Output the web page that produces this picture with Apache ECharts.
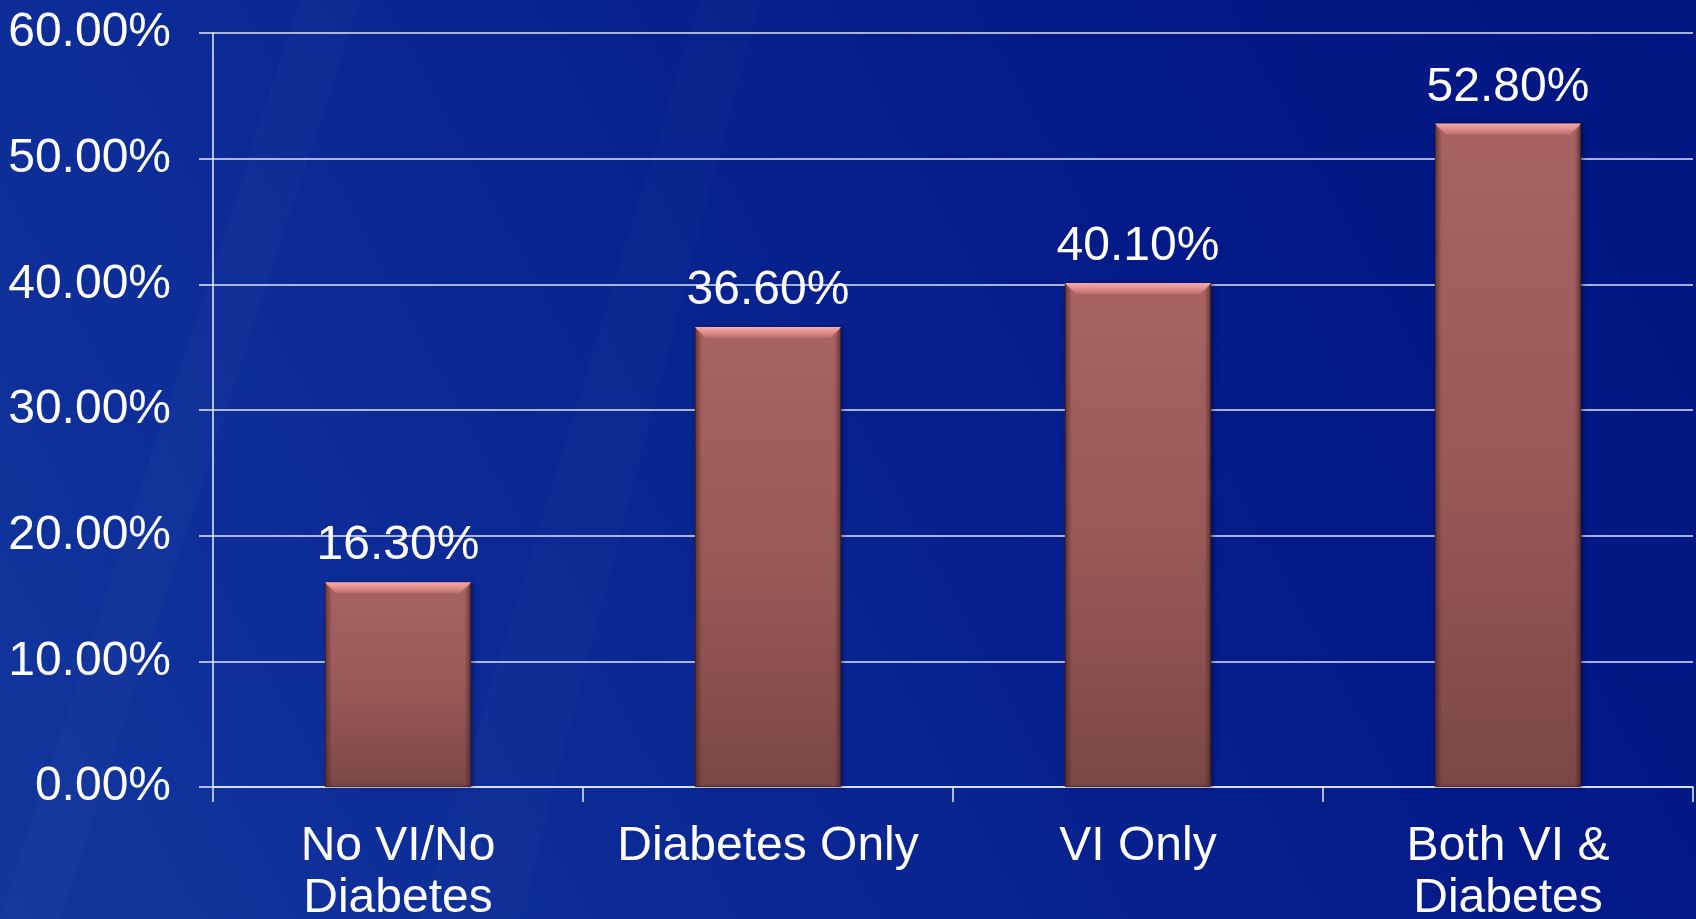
<!DOCTYPE html>
<html>
<head>
<meta charset="utf-8">
<script src="https://cdn.jsdelivr.net/npm/echarts@6/dist/echarts.min.js"></script>
<style>
  html, body { margin: 0; padding: 0; width: 100%; height: 100%; overflow: hidden; background: #031a88; }
  #chart { width: 1696px; height: 919px; }
</style>
</head>
<body>
<div id="chart"></div>
<script>
// Share of people in each group (percent)
const categories = ['No VI/No\nDiabetes', 'Diabetes Only', 'VI Only', 'Both VI &\nDiabetes'];
const values = [16.3, 36.6, 40.1, 52.8];
const yTicks = [0, 10, 20, 30, 40, 50, 60];

const FONT = '"Liberation Sans", Arial, sans-serif';
const BAR_FRACTION = 0.395;

const chart = echarts.init(document.getElementById('chart'), null, { renderer: 'canvas' });

// Bevel highlights drawn on top of each bar
function bevelItem(params, api) {
  const idx = params.dataIndex;
  const top = api.coord([idx, api.value(1)]);
  const base = api.coord([idx, 0]);
  const w = api.size([1, 0])[0] * BAR_FRACTION;
  const x0 = top[0] - w / 2, x1 = top[0] + w / 2;
  const y0 = top[1], y1 = base[1];
  const b = 11;
  return {
    type: 'group',
    children: [
      { // top bevel
        type: 'polygon',
        shape: { points: [[x0, y0], [x1, y0], [x1 - b, y0 + b], [x0 + b, y0 + b]] },
        style: {
          fill: new echarts.graphic.LinearGradient(0, 0, 0, 1, [
            { offset: 0, color: '#f4abab' },
            { offset: 0.45, color: '#e39191' },
            { offset: 1, color: '#b96d6d' }
          ])
        }
      },
      { // left edge
        type: 'polygon',
        shape: { points: [[x0, y0], [x0 + b * 0.6, y0 + b], [x0 + b * 0.6, y1], [x0, y1]] },
        style: {
          fill: new echarts.graphic.LinearGradient(0, 0, 1, 0, [
            { offset: 0, color: 'rgba(60,25,25,0.55)' },
            { offset: 1, color: 'rgba(60,25,25,0)' }
          ])
        }
      },
      { // right edge
        type: 'polygon',
        shape: { points: [[x1, y0], [x1 - b * 0.6, y0 + b], [x1 - b * 0.6, y1], [x1, y1]] },
        style: {
          fill: new echarts.graphic.LinearGradient(1, 0, 0, 0, [
            { offset: 0, color: 'rgba(60,25,25,0.6)' },
            { offset: 1, color: 'rgba(60,25,25,0)' }
          ])
        }
      }
    ]
  };
}

const option = {
  backgroundColor: new echarts.graphic.LinearGradient(0, 1, 1, 0, [
    { offset: 0, color: '#12369e' },
    { offset: 0.35, color: '#0a2894' },
    { offset: 0.7, color: '#021a88' },
    { offset: 1, color: '#001581' }
  ]),
  animation: false,
  graphic: [
    { type: 'polygon', silent: true, z: -10,
      shape: { points: [[0, 919], [60, 919], [360, 0], [300, 0]] },
      style: { fill: 'rgba(255,255,255,0.02)' } },
    { type: 'polygon', silent: true, z: -10,
      shape: { points: [[420, 919], [520, 919], [760, 0], [700, 0]] },
      style: { fill: 'rgba(255,255,255,0.015)' } }
  ],
  grid: { left: 213, right: 3, top: 33, bottom: 132, containLabel: false, outerBoundsMode: 'none' },
  xAxis: {
    type: 'category',
    data: categories,
    boundaryGap: true,
    axisLine: { show: true, lineStyle: { color: '#e8ecf6', width: 1.5 } },
    axisTick: { show: true, length: 15, lineStyle: { color: '#e8ecf6', width: 1.5 } },
    axisLabel: { color: '#ffffff', fontFamily: FONT, fontSize: 48, lineHeight: 52, margin: 34, interval: 0 },
    splitLine: { show: false }
  },
  yAxis: {
    type: 'value',
    min: yTicks[0],
    max: yTicks[yTicks.length - 1],
    interval: 10,
    axisLine: { show: true, lineStyle: { color: '#e8ecf6', width: 1.5 } },
    axisTick: { show: true, length: 14, lineStyle: { color: '#e8ecf6', width: 1.5 } },
    axisLabel: {
      color: '#ffffff', fontFamily: FONT, fontSize: 48, margin: 42,
      formatter: v => v.toFixed(2) + '%'
    },
    splitLine: { show: true, lineStyle: { color: '#dfe4f2', width: 1.5 } }
  },
  series: [
    {
      type: 'bar',
      data: values,
      barWidth: (BAR_FRACTION * 100) + '%',
      itemStyle: {
        color: new echarts.graphic.LinearGradient(0, 0, 0, 1, [
          { offset: 0, color: '#a86262' },
          { offset: 0.5, color: '#9a5959' },
          { offset: 1, color: '#7c4747' }
        ]),
        borderColor: '#5a2a2a',
        borderWidth: 1,
        shadowColor: 'rgba(0,0,30,0.35)',
        shadowBlur: 4,
        shadowOffsetX: 2
      },
      label: {
        show: true,
        position: 'top',
        distance: 12,
        color: '#ffffff',
        fontFamily: FONT,
        fontSize: 48,
        formatter: p => p.value.toFixed(2) + '%'
      },
      z: 2
    },
    {
      type: 'custom',
      data: values.map((v, i) => [i, v]),
      renderItem: bevelItem,
      silent: true,
      z: 3
    }
  ]
};

chart.setOption(option);
</script>
</body>
</html>
